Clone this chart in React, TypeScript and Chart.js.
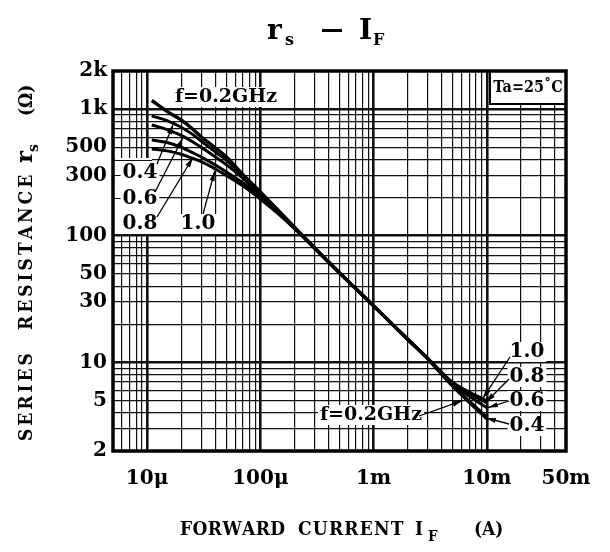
import React, { useEffect, useRef } from "react";
import { Chart, registerables } from "chart.js";

Chart.register(...registerables);

// ---- data ----
const currentA = [1.1e-5, 1.5e-5, 2e-5, 2.5e-5, 3e-5, 4e-5, 5e-5, 7e-5, 1e-4, 1.5e-4, 2.3e-4, 5e-4, 1e-3, 2e-3, 3e-3, 5e-3, 7e-3, 1e-2];
const rsF02 = [1170, 960, 821, 700, 606, 495, 420, 305, 222, 153, 103, 51, 28, 15.2, 10.7, 6.5, 4.85, 3.6];
const rsF04 = [885, 810, 720, 635, 560, 460, 395, 298, 216, 151, 102.5, 51, 28, 15.2, 10.7, 6.55, 4.95, 3.7];
const rsF06 = [750, 690, 620, 555, 500, 420, 365, 285, 210, 150, 102, 51, 28, 15.25, 10.75, 6.7, 5.4, 4.4];
const rsF08 = [571, 545, 500, 455, 420, 362, 320, 262, 203, 148, 101.5, 51, 28, 15.3, 10.8, 6.85, 5.7, 4.8];
const rsF10 = [485, 468, 440, 410, 385, 337, 300, 248, 195, 144, 101, 51, 28, 15.3, 10.85, 6.95, 5.85, 5.0];
const seriesNames = ["f=0.2GHz", "0.4", "0.6", "0.8", "1.0"];
const seriesValues = [rsF02, rsF04, rsF06, rsF08, rsF10];

const xMin = 5e-6;
const xMax = 5e-2;
const yMin = 2;
const yMax = 2000;
const xTickValues = [1e-5, 1e-4, 1e-3, 1e-2, 5e-2];
const xTickLabels = ["10\u03bc", "100\u03bc", "1m", "10m", "50m"];
const yTickValues = [2, 5, 10, 30, 50, 100, 300, 500, 1000, 2000];
const yTickLabels = ["2", "5", "10", "30", "50", "100", "300", "500", "1k", "2k"];

// arrow tips of the annotation labels, in data units [current A, rs ohm]
const tipsLow = [[1.7e-5, 760], [2.07e-5, 595], [2.54e-5, 415], [3.96e-5, 325]];
const tipsHigh = [[9.2e-3, 5.2], [9.8e-3, 4.85], [1.02e-2, 4.4], [9.8e-3, 3.65]];
const tipF02High = [6.1e-3, 5.0];

const FONT = '"DejaVu Serif", "Liberation Serif", serif';
const FONT_C = '"DejaVu Serif Condensed", "DejaVu Serif", serif';

function logGrid(min: number, max: number) {
  const out: { value: number }[] = [];
  for (let e = Math.floor(Math.log10(min)); e <= Math.ceil(Math.log10(max)); e++) {
    for (let m = 1; m <= 9; m++) {
      const v = m * Math.pow(10, e);
      if (v >= min * 0.999 && v <= max * 1.001) out.push({ value: v });
    }
  }
  return out;
}
const same = (a: number, b: number) => Math.abs(Math.log10(a) - Math.log10(b)) < 1e-6;
const isDecade = (v: number) => Math.abs(Math.log10(v) - Math.round(Math.log10(v))) < 1e-6;

function arrow(ctx: CanvasRenderingContext2D, x1: number, y1: number, x2: number, y2: number) {
  ctx.beginPath();
  ctx.moveTo(x1, y1);
  ctx.lineTo(x2, y2);
  ctx.lineWidth = 1.3;
  ctx.strokeStyle = "#000";
  ctx.stroke();
  const a = Math.atan2(y2 - y1, x2 - x1);
  const L = 10, W = 2.6;
  ctx.beginPath();
  ctx.moveTo(x2, y2);
  ctx.lineTo(x2 - L * Math.cos(a) + W * Math.sin(a), y2 - L * Math.sin(a) - W * Math.cos(a));
  ctx.lineTo(x2 - L * Math.cos(a) - W * Math.sin(a), y2 - L * Math.sin(a) + W * Math.cos(a));
  ctx.closePath();
  ctx.fillStyle = "#000";
  ctx.fill();
}

function spaced(ctx: CanvasRenderingContext2D, text: string, x: number, y: number, sp: number) {
  let cx = x;
  for (const ch of text) {
    ctx.fillText(ch, cx, y);
    cx += ctx.measureText(ch).width + sp;
  }
  return cx;
}

function boxedText(ctx: CanvasRenderingContext2D, text: string, cx: number, cy: number, font: string) {
  ctx.font = font;
  const w = ctx.measureText(text).width;
  ctx.fillStyle = "#fff";
  ctx.fillRect(cx - w / 2 - 2, cy - 10, w + 4, 20);
  ctx.fillStyle = "#000";
  ctx.textAlign = "center";
  ctx.textBaseline = "middle";
  ctx.fillText(text, cx, cy);
}

const annotations = {
  id: "annotations",
  beforeDatasetsDraw(chart: any) {
    const { ctx, chartArea: ca, scales } = chart;
    const y = scales.y;
    ctx.save();
    // cleared paper behind lower-left labels
    ctx.fillStyle = "#fff";
    ctx.fillRect(ca.left + 2, 158, 150 - ca.left, 76);
    ctx.strokeStyle = "#111";
    ctx.lineWidth = 1.2;
    [200, 300, 400].forEach((v) => {
      const py = Math.round(y.getPixelForValue(v)) + 0.5;
      ctx.beginPath();
      ctx.moveTo(ca.left, py);
      ctx.lineTo(152, py);
      ctx.stroke();
    });
    const f20 = `bold 20px ${FONT}`;
    boxedText(ctx, "0.4", 140, 173, f20);
    boxedText(ctx, "0.6", 140, 199, f20);
    boxedText(ctx, "0.8", 140, 224, f20);
    boxedText(ctx, "1.0", 198, 224, f20);
    // top label
    boxedText(ctx, "f=0.2GHz", 226, 97, `bold 19px ${FONT}`);
    // right labels
    boxedText(ctx, "1.0", 527, 352, f20);
    boxedText(ctx, "0.8", 527, 377, f20);
    boxedText(ctx, "0.6", 527, 401, f20);
    boxedText(ctx, "0.4", 527, 426, f20);
    boxedText(ctx, "f=0.2GHz", 371, 415, `bold 19px ${FONT}`);
    // Ta box
    ctx.fillStyle = "#fff";
    ctx.fillRect(490, ca.top, ca.right - 490, 33);
    ctx.strokeStyle = "#000";
    ctx.lineWidth = 2;
    ctx.strokeRect(490, ca.top, ca.right - 490, 33);
    ctx.fillStyle = "#000";
    ctx.font = `bold 16px ${FONT_C}`;
    ctx.textAlign = "center";
    ctx.textBaseline = "middle";
    ctx.fillText("Ta=25\u02daC", 528, ca.top + 17);
    ctx.restore();
  },
  afterDatasetsDraw(chart: any) {
    const { ctx, chartArea: ca, scales } = chart;
    const x = scales.x, y = scales.y;
    const P = (t: number[]) => [x.getPixelForValue(t[0]), y.getPixelForValue(t[1])];
    ctx.save();
    const tailsLow = [[157, 164], [155, 192], [157, 217], [203, 214]];
    tipsLow.forEach((t, i) => {
      const [px, py] = P(t);
      arrow(ctx, tailsLow[i][0], tailsLow[i][1], px, py);
    });
    const tailsHigh = [[510, 357], [509, 379], [509, 401], [509, 424]];
    tipsHigh.forEach((t, i) => {
      const [px, py] = P(t);
      arrow(ctx, tailsHigh[i][0], tailsHigh[i][1], px, py);
    });
    const [fx, fy] = P(tipF02High);
    arrow(ctx, 419, 416, fx, fy);
    // frame
    ctx.strokeStyle = "#000";
    ctx.lineWidth = 3.5;
    ctx.strokeRect(ca.left, ca.top, ca.right - ca.left, ca.bottom - ca.top);
    ctx.restore();
  },
  afterDraw(chart: any) {
    const { ctx } = chart;
    ctx.save();
    ctx.fillStyle = "#000";
    ctx.textBaseline = "alphabetic";
    ctx.textAlign = "left";
    // main title  r_s - I_F
    ctx.font = `bold 28px ${FONT}`;
    ctx.fillText("r", 267, 39);
    ctx.font = `bold 16px ${FONT}`;
    ctx.fillText("s", 285, 45);
    ctx.fillRect(322, 29, 20, 3);
    ctx.font = `bold 28px ${FONT}`;
    ctx.fillText("I", 359, 39);
    ctx.font = `bold 16px ${FONT}`;
    ctx.fillText("F", 373, 45);
    // x title
    ctx.font = `bold 19px ${FONT_C}`;
    spaced(ctx, "FORWARD", 180, 535, 0.4);
    spaced(ctx, "CURRENT", 298, 535, 1.2);
    ctx.fillText("I", 415, 535);
    ctx.font = `bold 15px ${FONT_C}`;
    ctx.fillText("F", 428, 541);
    ctx.font = `bold 19px ${FONT_C}`;
    ctx.fillText("(A)", 474, 535);
    // y title (rotated)
    ctx.translate(32, 0);
    ctx.rotate(-Math.PI / 2);
    ctx.font = `bold 19px ${FONT_C}`;
    spaced(ctx, "SERIES", -441, 0, 3);
    spaced(ctx, "RESISTANCE", -330, 0, 3);
    ctx.font = `bold 23px ${FONT}`;
    ctx.fillText("r", -163, 0);
    ctx.font = `bold 14px ${FONT}`;
    ctx.fillText("s", -152, 6);
    ctx.font = `bold 19px ${FONT_C}`;
    ctx.fillText("(\u03a9)", -116, 0);
    ctx.restore();
  },
};

export default function App() {
  const ref = useRef<HTMLCanvasElement | null>(null);
  useEffect(() => {
    if (!ref.current) return;
    const tickFont = { family: FONT, size: 20, weight: "bold" as const };
    const chart = new Chart(ref.current, {
      type: "line",
      data: {
        datasets: seriesValues.map((vals, i) => ({
          label: seriesNames[i],
          data: currentA.map((c, j) => ({ x: c, y: vals[j] })),
          borderColor: "#000",
          borderWidth: i === 0 ? 3.4 : 3,
          pointRadius: 0,
          fill: false,
          cubicInterpolationMode: "monotone" as const,
        })),
      },
      options: {
        animation: false,
        responsive: true,
        maintainAspectRatio: false,
        devicePixelRatio: 1,
        layout: { padding: { left: 0, top: 71, right: 44, bottom: 0 } },
        plugins: { legend: { display: false }, tooltip: { enabled: false }, title: { display: false } },
        scales: {
          x: {
            type: "logarithmic",
            min: xMin,
            max: xMax,
            afterBuildTicks: (s: any) => { s.ticks = logGrid(xMin, xMax); },
            afterFit: (s: any) => { s.height = 101; },
            border: { display: false },
            grid: {
              color: "#111",
              lineWidth: (c: any) => (c.tick && isDecade(c.tick.value) ? 2.6 : 1.2),
              drawTicks: false,
            },
            ticks: {
              autoSkip: false,
              maxRotation: 0,
              minRotation: 0,
              padding: 16,
              color: "#000",
              font: tickFont,
              callback: (v: any) => {
                const i = xTickValues.findIndex((t) => same(t, Number(v)));
                return i >= 0 ? xTickLabels[i] : "";
              },
            },
          },
          y: {
            type: "logarithmic",
            min: yMin,
            max: yMax,
            afterBuildTicks: (s: any) => { s.ticks = logGrid(yMin, yMax); },
            afterFit: (s: any) => { s.width = 113; },
            border: { display: false },
            grid: {
              color: "#111",
              lineWidth: (c: any) => (c.tick && isDecade(c.tick.value) ? 2.6 : 1.2),
              drawTicks: false,
            },
            ticks: {
              autoSkip: false,
              padding: 6,
              color: "#000",
              font: tickFont,
              callback: (v: any) => {
                const i = yTickValues.findIndex((t) => same(t, Number(v)));
                return i >= 0 ? yTickLabels[i] : "";
              },
            },
          },
        },
      },
      plugins: [annotations],
    });
    return () => chart.destroy();
  }, []);
  return (
    <div style={{ position: "fixed", left: 0, top: 0, width: 610, height: 552, background: "#fff" }}>
      <canvas ref={ref} />
    </div>
  );
}
